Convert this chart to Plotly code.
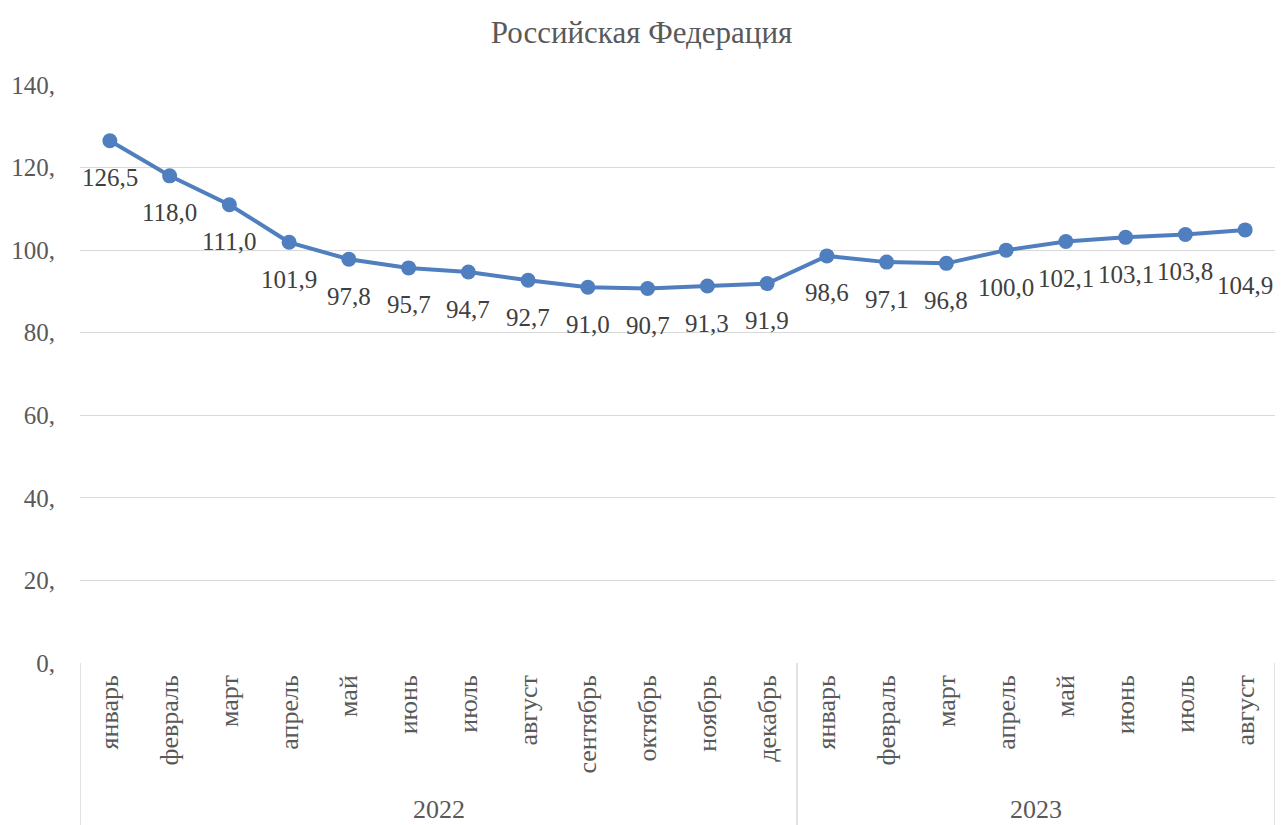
import plotly.graph_objects as go

months = ["январь", "февраль", "март", "апрель", "май", "июнь", "июль", "август",
          "сентябрь", "октябрь", "ноябрь", "декабрь",
          "январь", "февраль", "март", "апрель", "май", "июнь", "июль", "август"]
years = ["2022", "2023"]
year_counts = [12, 8]
values = [126.5, 118.0, 111.0, 101.9, 97.8, 95.7, 94.7, 92.7, 91.0, 90.7, 91.3, 91.9,
          98.6, 97.1, 96.8, 100.0, 102.1, 103.1, 103.8, 104.9]
y_ticks = [0, 20, 40, 60, 80, 100, 120, 140]
y_ticktext = ["0,", "20,", "40,", "60,", "80,", "100,", "120,", "140,"]

FONT = "'Liberation Serif', 'Times New Roman', 'DejaVu Serif', serif"
GREY = "#595959"
BLUE = "#4F7FBF"

x = list(range(len(months)))

fig = go.Figure()
fig.add_trace(go.Scatter(
    x=x, y=values, mode="lines+markers",
    line=dict(color=BLUE, width=4),
    marker=dict(color=BLUE, size=15),
    hoverinfo="skip", showlegend=False,
))

annotations = []
for i, (xi, v) in enumerate(zip(x, values)):
    shift = -56 if i == len(values) - 1 else -37
    annotations.append(dict(
        x=xi, y=v, xref="x", yref="y",
        text=f"{v:.1f}".replace(".", ","),
        showarrow=False, yshift=shift,
        font=dict(family=FONT, size=25, color="#404040"),
    ))

shapes = []
start = 0
bottom = -0.3
for yr, cnt in zip(years, year_counts):
    center = start + (cnt - 1) / 2
    annotations.append(dict(
        x=center, y=-0.254, xref="x", yref="paper",
        text=yr, showarrow=False, yanchor="middle",
        font=dict(family=FONT, size=26, color=GREY),
    ))
    start += cnt

boundaries = [-0.5]
acc = -0.5
for cnt in year_counts:
    acc += cnt
    boundaries.append(acc)
for b in boundaries:
    shapes.append(dict(
        type="line", xref="x", yref="paper",
        x0=b, x1=b, y0=0, y1=bottom,
        line=dict(color="#d9d9d9", width=1.5),
    ))

fig.update_layout(
    width=1283, height=825,
    margin=dict(l=80, r=8, t=85, b=162),
    paper_bgcolor="white", plot_bgcolor="white",
    title=dict(text="Российская Федерация", x=0.5, xanchor="center",
               y=0.961, yanchor="middle",
               font=dict(family=FONT, size=31, color=GREY)),
    xaxis=dict(
        range=[-0.5, len(months) - 0.5],
        tickmode="array", tickvals=x, ticktext=months,
        tickangle=-90, showgrid=False, zeroline=False, showline=False,
        ticks="", ticklabelstandoff=6,
        tickfont=dict(family=FONT, size=26, color=GREY),
    ),
    yaxis=dict(
        range=[0, 140],
        tickmode="array", tickvals=y_ticks, ticktext=y_ticktext,
        showgrid=True, gridcolor="#d9d9d9", gridwidth=1.2,
        zeroline=False, showline=False, ticks="",
        ticklabelstandoff=24,
        tickfont=dict(family=FONT, size=25, color=GREY),
    ),
    annotations=annotations,
    shapes=shapes,
)

fig.write_html("out.html", config={"displayModeBar": False},
               post_script="document.body.style.margin='0';document.body.style.overflow='hidden';")
